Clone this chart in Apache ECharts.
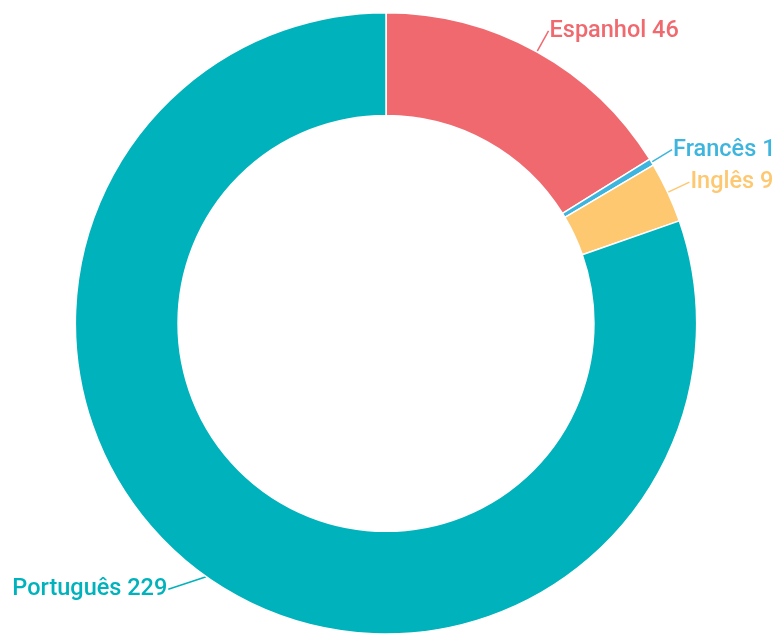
<!DOCTYPE html>
<html>
<head>
<meta charset="utf-8">
<script src="https://cdn.jsdelivr.net/npm/echarts@6/dist/echarts.min.js"></script>
<style>
  html, body { margin: 0; padding: 0; background: #fff; }
  #chart { width: 772px; height: 634px; }
</style>
</head>
<body>
<div id="chart"></div>
<script>
var languages = ['Espanhol', 'Francês', 'Inglês', 'Português'];
var counts = [46, 1, 9, 229];
var colors = ['#f0696f', '#3db5de', '#fdc870', '#00b2bc'];

var chart = echarts.init(document.getElementById('chart'));

var option = {
    color: colors,
    series: [
        {
            type: 'pie',
            radius: ['65.6%', '98%'],
            center: ['50%', '51%'],
            startAngle: 90,
            clockwise: true,
            animation: false,
            itemStyle: {
                borderColor: '#fff',
                borderWidth: 1.5
            },
            label: {
                formatter: '{b} {c}',
                fontFamily: 'Roboto',
                fontSize: 23.5,
                fontWeight: 500,
                overflow: 'none',
                distanceToLabelLine: 1,
                textBorderColor: '#fff',
                textBorderWidth: 2
            },
            labelLine: {
                length: 24,
                length2: 0,
                lineStyle: { width: 1.5 }
            },
            labelLayout: function (params) {
                // the bottom label sits up and to the left in the original,
                // x/y make echarts redraw its guide line to the moved label
                if (params.dataIndex === 3) {
                    var r = params.labelRect;
                    return {
                        x: r.x + r.width - 25,
                        y: r.y + r.height / 2 - 7,
                        align: 'right',
                        verticalAlign: 'middle'
                    };
                }
                return { moveOverlap: 'shiftY' };
            },
            data: languages.map(function (name, i) {
                return {
                    name: name,
                    value: counts[i],
                    label: { color: colors[i] }
                };
            })
        }
    ]
};

chart.setOption(option);
</script>
</body>
</html>
